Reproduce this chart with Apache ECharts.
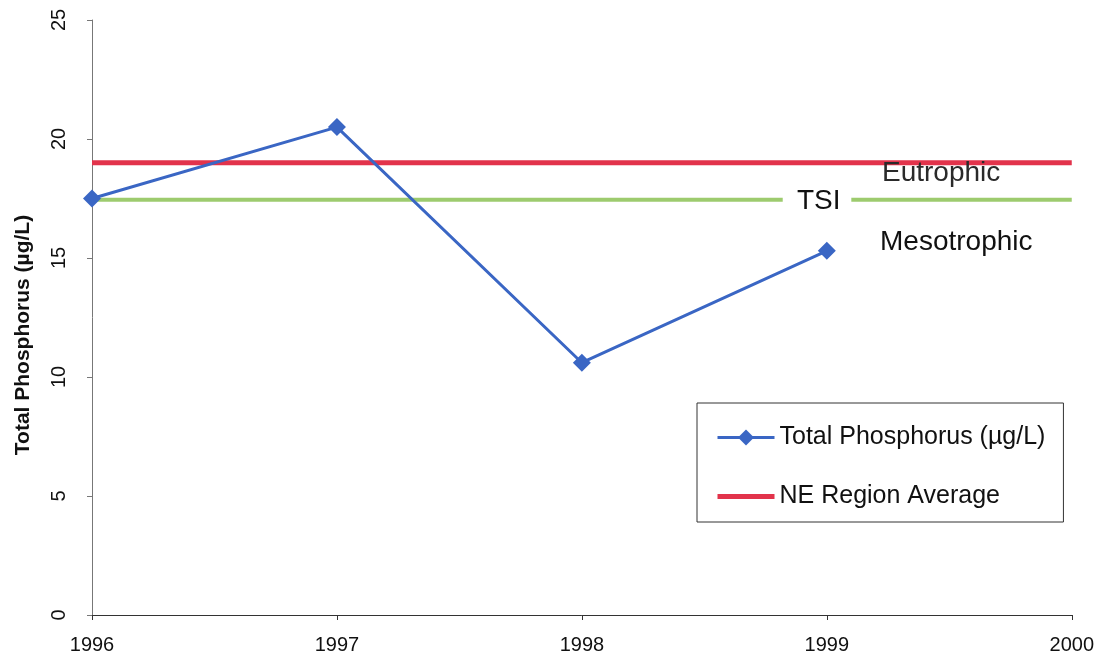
<!DOCTYPE html>
<html>
<head>
<meta charset="utf-8">
<script src="https://cdn.jsdelivr.net/npm/echarts@6/dist/echarts.min.js"></script>
<style>html,body{margin:0;padding:0;background:#fff}#c{width:1097px;height:656px}</style>
</head>
<body>
<div id="c"></div>
<script>
const years = [1996, 1997, 1998, 1999];
const phosphorus = [17.5, 20.5, 10.6, 15.3];
const regionAvgX = [1996, 2000];
const regionAvg = [19, 19];
const tsiSegAX = [1996, 1998.82];
const tsiSegBX = [1999.1, 2000];
const tsiValue = 17.45;
const yTicks = [0, 5, 10, 15, 20, 25];
const xTicks = [1996, 1997, 1998, 1999, 2000];

const chart = echarts.init(document.getElementById('c'));
const font = 'Liberation Sans, Arial, sans-serif';
chart.setOption({
  animation: false,
  backgroundColor: '#fff',
  grid: { left: 92, right: 24, top: 20, bottom: 41 },
  xAxis: {
    type: 'value', min: xTicks[0], max: xTicks[xTicks.length - 1], interval: 1,
    axisLine: { lineStyle: { color: '#333', width: 1 } },
    axisTick: { show: true, length: 5, inside: false, lineStyle: { color: '#333' } },
    splitLine: { show: false },
    axisLabel: { fontFamily: font, fontSize: 20, color: '#111', margin: 20, formatter: v => String(v) }
  },
  yAxis: {
    type: 'value', min: yTicks[0], max: yTicks[yTicks.length - 1], interval: 5,
    name: 'Total Phosphorus (µg/L)', nameLocation: 'middle', nameGap: 58, nameRotate: 90,
    nameTextStyle: { fontFamily: font, fontSize: 21, fontWeight: 'bold', color: '#111', padding: [0, 35, 0, 0] },
    axisLine: { show: true, lineStyle: { color: '#777', width: 1 } },
    axisTick: { show: true, length: 5, lineStyle: { color: '#777' } },
    splitLine: { show: false },
    axisLabel: { fontFamily: font, fontSize: 20, color: '#111', rotate: 90, margin: 33, align: 'center', verticalAlign: 'middle' }
  },
  legend: {
    left: 697, top: 403,
    orient: 'vertical',
    data: [
      { name: 'Total Phosphorus (µg/L)', lineStyle: { width: 3, color: '#3A66C4' } },
      { name: 'NE Region Average', itemStyle: { color: 'rgba(0,0,0,0)', borderColor: 'rgba(0,0,0,0)', borderWidth: 0 }, lineStyle: { width: 5, color: '#E2334B' } }
    ],
    borderColor: '#333', borderWidth: 1, padding: [22, 18, 13, 18],
    itemWidth: 57, itemHeight: 20, itemGap: 34,
    textStyle: { fontFamily: font, fontSize: 25, color: '#111' }
  },
  series: [
    {
      name: 'TSI', type: 'line', data: tsiSegAX.map(x => [x, tsiValue]),
      symbol: 'none', lineStyle: { color: '#9DCB6E', width: 4 }, z: 1, silent: true
    },
    {
      name: 'TSI2', type: 'line', data: tsiSegBX.map(x => [x, tsiValue]),
      symbol: 'none', lineStyle: { color: '#9DCB6E', width: 4 }, z: 1, silent: true
    },
    {
      name: 'NE Region Average', type: 'line', data: regionAvgX.map((x, i) => [x, regionAvg[i]]),
      symbol: 'none', lineStyle: { color: '#E2334B', width: 5 }, itemStyle: { color: '#E2334B' }, z: 2
    },
    {
      name: 'Total Phosphorus (µg/L)', type: 'line', data: years.map((y, i) => [y, phosphorus[i]]),
      symbol: 'diamond', symbolSize: 18, lineStyle: { color: '#3A66C4', width: 3 },
      itemStyle: { color: '#3A66C4' }, z: 3
    }
  ],
  graphic: [
    { type: 'text', z: 10, style: { x: 797, y: 201, text: 'TSI', font: '28px ' + font, fill: '#111', verticalAlign: 'middle' } },
    { type: 'text', z: 10, style: { x: 882, y: 173, text: 'Eutrophic', font: '28px ' + font, fill: '#2a2a2a', verticalAlign: 'middle' } },
    { type: 'text', z: 10, style: { x: 880, y: 242, text: 'Mesotrophic', font: '28px ' + font, fill: '#111', verticalAlign: 'middle' } }
  ]
});
</script>
</body>
</html>
